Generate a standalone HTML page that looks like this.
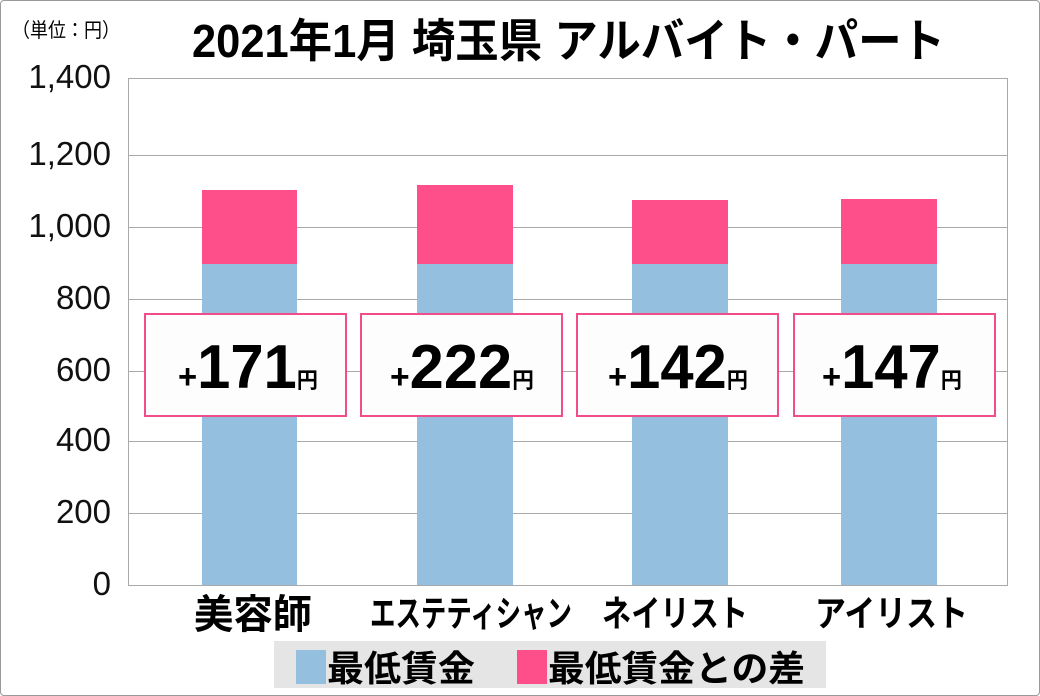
<!DOCTYPE html>
<html><head><meta charset="utf-8"><style>
body{margin:0;width:1040px;height:696px;background:#fff;overflow:hidden;font-family:"Liberation Sans","Noto Sans CJK JP",sans-serif}
.a{position:absolute}
</style></head><body>
<div class="a" style="left:0;top:0;width:1038px;height:694px;border:1px solid #999;border-radius:4px"></div>
<svg class="a" style="left:0;top:0" width="1040" height="696">
<g font-family="Liberation Sans, Noto Sans CJK JP, sans-serif" fill="#000">
<text x="12" y="37" font-size="20" textLength="108" lengthAdjust="spacingAndGlyphs">（単位：円）</text>
<text x="192" y="57" font-size="46" font-weight="bold" textLength="753" lengthAdjust="spacingAndGlyphs">2021年1月 埼玉県 アルバイト・パート</text>
</g>
<rect x="128.5" y="78.5" width="879" height="507" fill="#fff" stroke="#aaa"/>
<g stroke="#aaa">
<line x1="128" x2="1008" y1="155.5" y2="155.5"/><line x1="128" x2="1008" y1="227.5" y2="227.5"/>
<line x1="128" x2="1008" y1="299.5" y2="299.5"/><line x1="128" x2="1008" y1="371.5" y2="371.5"/>
<line x1="128" x2="1008" y1="441.5" y2="441.5"/><line x1="128" x2="1008" y1="513.5" y2="513.5"/>
</g>
<g fill="#94bfde">
<rect x="202" y="264" width="95" height="321"/><rect x="417" y="264" width="96" height="321"/>
<rect x="632" y="264" width="96" height="321"/><rect x="841" y="264" width="96" height="321"/>
</g>
<g fill="#ff4f8a">
<rect x="202" y="190" width="95" height="74"/><rect x="417" y="185" width="96" height="79"/>
<rect x="632" y="200" width="96" height="64"/><rect x="841" y="199" width="96" height="65"/>
</g>
<g fill="#fdfdfd" stroke="#f04d8a" stroke-width="2">
<rect x="145" y="314" width="201" height="102"/><rect x="361" y="314" width="201" height="102"/>
<rect x="577" y="314" width="201" height="102"/><rect x="794" y="314" width="201" height="102"/>
</g>
<g font-family="Liberation Sans, sans-serif" font-size="33" text-anchor="end" fill="#111">
<text x="111" y="88">1,400</text><text x="111" y="165">1,200</text><text x="111" y="237">1,000</text>
<text x="111" y="309">800</text><text x="111" y="381">600</text><text x="111" y="451">400</text>
<text x="111" y="523">200</text><text x="111" y="595">0</text>
</g>
<g font-family="Liberation Sans, Noto Sans CJK JP, sans-serif" font-weight="bold" fill="#000">
<text x="178" y="388" textLength="140" lengthAdjust="spacingAndGlyphs"><tspan font-size="34">+</tspan><tspan font-size="62">171</tspan><tspan font-size="22">円</tspan></text>
<text x="390" y="388" textLength="144" lengthAdjust="spacingAndGlyphs"><tspan font-size="34">+</tspan><tspan font-size="62">222</tspan><tspan font-size="22">円</tspan></text>
<text x="608" y="388" textLength="140" lengthAdjust="spacingAndGlyphs"><tspan font-size="34">+</tspan><tspan font-size="62">142</tspan><tspan font-size="22">円</tspan></text>
<text x="822" y="388" textLength="140" lengthAdjust="spacingAndGlyphs"><tspan font-size="34">+</tspan><tspan font-size="62">147</tspan><tspan font-size="22">円</tspan></text>
<text x="194" y="628" font-size="40" textLength="118" lengthAdjust="spacingAndGlyphs">美容師</text>
<text x="370" y="626" font-size="36" textLength="202" lengthAdjust="spacingAndGlyphs">エステティシャン</text>
<text x="602" y="626" font-size="36" textLength="146" lengthAdjust="spacingAndGlyphs">ネイリスト</text>
<text x="815" y="626" font-size="36" textLength="153" lengthAdjust="spacingAndGlyphs">アイリスト</text>
</g>
<rect x="274" y="641" width="552" height="47" fill="#e5e5e5"/>
<rect x="296" y="650" width="30" height="34" fill="#94bfde"/>
<rect x="517" y="650" width="30" height="34" fill="#ff4f8a"/>
<g font-family="Liberation Sans, Noto Sans CJK JP, sans-serif" font-size="36" font-weight="bold" fill="#000">
<text x="327" y="681" textLength="148" lengthAdjust="spacingAndGlyphs">最低賃金</text>
<text x="548" y="681" textLength="257" lengthAdjust="spacingAndGlyphs">最低賃金との差</text>
</g>
</svg>
</body></html>
